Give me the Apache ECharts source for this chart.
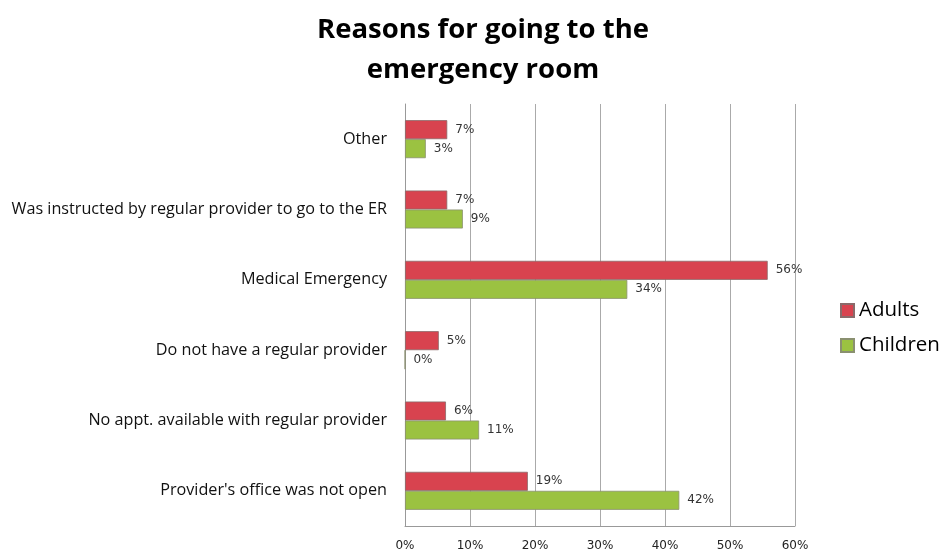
<!DOCTYPE html>
<html><head><meta charset="utf-8">
<script src="https://cdn.jsdelivr.net/npm/echarts@6/dist/echarts.min.js"></script>
<style>html,body{margin:0;padding:0;background:#fff}#c{width:942px;height:552px}</style>
</head><body><div id="c"></div>
<script>
const categories = ["Provider's office was not open", "No appt. available with regular provider", "Do not have a regular provider", "Medical Emergency", "Was instructed by regular provider to go to the ER", "Other"];
const adults = [18.9, 6.3, 5.2, 55.8, 6.5, 6.5];
const children = [42.2, 11.4, 0, 34.2, 8.9, 3.2];
const xTicks = [0, 10, 20, 30, 40, 50, 60];

const chart = echarts.init(document.getElementById('c'));
const labelCfg = {show: true, position: 'right', distance: 8, color: '#333', fontFamily: 'DejaVu Sans', fontSize: 12,
  formatter: p => Math.round(p.value) + '%'};
chart.setOption({
  animation: false,
  title: {text: 'Reasons for going to the\nemergency room', left: 478, textAlign: 'center', top: 5,
    textStyle: {fontFamily: 'Open Sans', fontWeight: 'bold', fontSize: 27.5, lineHeight: 40, color: '#000'}},
  legend: {orient: 'vertical', left: 835, top: 295, itemWidth: 13, itemHeight: 13, itemGap: 14,
    icon: 'rect', textStyle: {fontFamily: 'Open Sans', fontSize: 20.5, color: '#000'}, data: ['Adults', 'Children']},
  grid: {left: 405, right: 147, top: 104, bottom: 26, containLabel: false},
  xAxis: {type: 'value', min: 0, max: 60, interval: 10,
    axisLine: {show: true, lineStyle: {color: '#999'}}, axisTick: {show: false},
    splitLine: {show: true, lineStyle: {color: '#aaa'}},
    axisLabel: {formatter: v => xTicks.includes(v) ? v + '%' : '', color: '#222', fontFamily: 'DejaVu Sans', fontSize: 12, margin: 14}},
  yAxis: {type: 'category', data: categories, axisTick: {show: false},
    axisLine: {show: true, lineStyle: {color: '#999'}},
    axisLabel: {color: '#111', fontFamily: 'Open Sans', fontSize: 16.2, margin: 18}},
  series: [
    {name: 'Adults', type: 'bar', data: adults, barWidth: 19, barGap: '0%',
      itemStyle: {color: '#d8434f', borderColor: '#8a6a6a', borderWidth: 0.8}, label: labelCfg},
    {name: 'Children', type: 'bar', data: children, barWidth: 19,
      itemStyle: {color: '#9bc241', borderColor: '#8a9070', borderWidth: 0.8}, label: labelCfg}
  ]
});
</script></body></html>
